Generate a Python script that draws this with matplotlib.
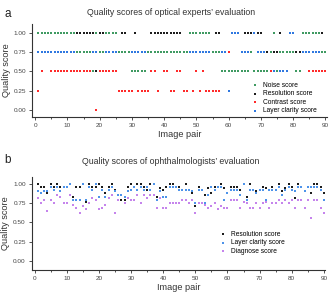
import numpy as np
import matplotlib
matplotlib.use("Agg")
import matplotlib.pyplot as plt
from matplotlib.ticker import MultipleLocator

plt.rcParams['font.family'] = ['Liberation Sans', 'DejaVu Sans']

pairs = list(range(1, 91))

# panel a: optical experts
noise = [1, 1, 1, 1, 1, 1, 1, 1, 1, 1,
         1, 1, .75, .75, .75, .75, .75, .5, 1, .75,
         .75, 1, 1, 1, 1, .75, .75, .75, .75, .5,
         .5, .5, .5, .5, .75, .75, .75, .75, .75, .75,
         .75, .75, .75, .75, .75, .75, .75, 1, 1, 1,
         1, 1, 1, 1, .75, .75, .75, .5, .5, .5,
         .5, .5, .5, .5, .5, .5, .75, .5, .5, .5,
         .5, .5, .75, 1, .5, .75, .75, .75, .75, .75,
         .5, .5, 1, 1, 1, 1, 1, 1, .75, .75]
resolution = [1, 1, 1, 1, 1, 1, 1, 1, 1, 1,
              1, 1, 1, 1, 1, 1, 1, 1, .5, 1,
              1, 1, 1, 1, 1, .75, 1, 1, .75, .75,
              1, .75, .75, .75, .75, 1, 1, 1, 1, 1,
              1, 1, 1, 1, 1, .75, .75, 1, 1, 1,
              1, 1, 1, 1, .75, 1, 1, .75, .75, .5,
              .5, .5, .5, .5, 1, 1, 1, 1, 1, 1,
              .75, .75, .75, .75, .75, 1, .75, .75, .75, .75,
              .75, .75, 1, 1, 1, 1, 1, 1, 1, .75]
contrast = [.25, .5, .75, .75, .5, .5, .5, .5, .5, .5,
            .5, .5, .5, .5, .5, .5, .5, .5, 0, .5,
            .5, .5, .5, .5, .5, .25, .25, .25, .25, .25,
            .5, .25, .25, .25, .25, .5, .5, .25, .75, .5,
            .5, .25, .25, .5, .5, .25, .25, .75, .25, .5,
            .25, .5, .25, .25, .25, .25, .25, .5, .5, .75,
            .5, .5, .5, .5, .5, .5, .75, .5, .5, .5,
            .5, .5, .5, .5, .5, .5, .5, .5, .75, .75,
            .5, .5, .75, .75, .5, .5, .5, .5, .5, .5]
layer_a = [.75, .75, .75, .75, .75, .75, .75, .75, .75, .75,
           .75, .75, .75, .75, .75, .75, .75, .75, .75, .75,
           .75, .75, .75, .75, .75, .75, .75, .75, .75, .75,
           .75, .75, .75, .75, .75, .75, .75, .75, .75, .75,
           .75, .75, .75, .75, .75, .75, .75, .75, .75, .75,
           .75, .75, .75, .75, .75, .75, .75, .75, .75, .25,
           1, 1, 1, .75, .75, .75, .75, 1, .75, .75,
           .75, .5, .75, .5, .5, .5, .5, .5, 1, 1,
           .5, .5, .75, .75, .75, .75, .75, .75, .75, .75]

# panel b: ophthalmologists
resolution_b = [1, .96, .96, .875, 1, .96, 1, .96, .96, .96,
                1, .83, .96, .96, 1, .77, 1, .96, .96, 1,
                .96, .875, .96, 1, .92, .85, .79, .79, .96, 1,
                .96, 1, 1, .96, .92, 1, 1, .83, .94, .92,
                .96, 1, 1, .96, .96, .92, 1, .92, .875, .71,
                .96, .92, .85, .94, .875, .96, .96, 1, .94, .875,
                .96, .96, .96, .92, 1, .83, 1, .92, .90, .92,
                .96, .94, .92, .96, .92, 1, .90, .94, 1, .96,
                .81, 1, .96, .90, .96, .875, 1, 1, .96, .875]
layer_b = [.90, .875, .90, .90, .96, .92, .96, .90, .96, .96,
           1, .79, .79, .79, 1, .79, .96, .92, 1, .83,
           .92, .83, .92, .96, .90, .85, .85, .83, .90, .92,
           .96, .92, .96, .92, .96, .92, 1, .79, .90, .83,
           .83, .96, .96, .96, .92, .92, .92, .92, .90, .75,
           .92, .92, .75, .85, .96, .92, .96, .96, .79, .88,
           .92, .92, .92, .85, 1, .79, .92, .92, .88, .92,
           .92, .79, .92, .92, .92, .96, .85, .92, .96, .92,
           .90, .96, .96, .90, .96, .96, .96, .96, .92, .79]
diagnose = [.81, .75, .79, .65, .79, .75, .85, .83, .75, .75,
            .85, .73, .69, .625, .71, .67, .75, .81, .79, .67,
            .69, .73, .81, .85, .625, .79, .79, .75, .81, .79,
            .79, .85, .75, .85, .81, .85, .85, .69, .81, .69,
            .69, .75, .75, .75, .75, .79, .79, .75, .79, .625,
            .75, .75, .73, .69, .71, .75, .67, .71, .69, .69,
            .79, .79, .79, .69, .77, .75, .69, .69, .75, .69,
            .75, .77, .69, .75, .75, .79, .75, .79, .75, .79,
            .69, .79, .79, .69, .79, .56, .79, .79, .69, .625]

GREEN = '#3f9a62'
BLACK = '#1c1c1c'
RED = '#ff2a2a'
BLUE = '#2f78e0'
BLUE_B = '#4d93ea'
PURPLE = '#c584ec'

W, H = 335, 296
fig = plt.figure(figsize=(W / 100, H / 100), dpi=100)


def style_axes(ax, ylim):
    for s in ['top', 'right']:
        ax.spines[s].set_visible(False)
    for s in ['left', 'bottom']:
        ax.spines[s].set_linewidth(0.8)
        ax.spines[s].set_color('#333333')
    ax.set_xlim(-0.9, 90.4)
    ax.set_ylim(*ylim)
    ax.xaxis.set_major_locator(MultipleLocator(10))
    ax.xaxis.set_minor_locator(MultipleLocator(5))
    ax.set_yticks([0, 0.25, 0.5, 0.75, 1.0])
    ax.set_yticklabels(['0.00', '0.25', '0.50', '0.75', '1.00'])
    ax.tick_params(which='both', direction='out', labelsize=4.6,
                   length=2.2, width=0.6, pad=2, colors='#333333',
                   labelcolor='#444444')
    ax.tick_params(which='minor', length=1.6)
    ax.set_xlabel('Image pair', fontsize=6.6, labelpad=1.5, color='#333333')
    ax.set_ylabel('Quality score', fontsize=6.6, labelpad=2, color='#333333')


ms = 4.2
# panel a
ax1 = fig.add_axes([32.3 / W, 1 - 116.7 / H, 294.4 / W, 92.7 / H])
ax1.scatter(pairs, noise, s=ms, marker='s', color=GREEN, linewidths=0, zorder=5, label='Noise score')
ax1.scatter(pairs, resolution, s=ms, marker='s', color=BLACK, linewidths=0, zorder=3, label='Resolution score')
ax1.scatter(pairs, contrast, s=ms, marker='s', color=RED, linewidths=0, zorder=2, label='Contrast score')
ax1.scatter(pairs, layer_a, s=ms, marker='s', color=BLUE, linewidths=0, zorder=4, label='Layer clarity score')
style_axes(ax1, (-0.087, 1.11))
ax1.legend(loc='upper left', bbox_to_anchor=(252 / W, 1 - 82 / H),
           bbox_transform=fig.transFigure, frameon=False, fontsize=4.8,
           borderpad=0, borderaxespad=0, handlelength=0.8, handletextpad=0.9,
           labelspacing=0.22, markerscale=0.9)
fig.text(171 / W, 1 - 12.7 / H, 'Quality scores of optical experts\u2019 evaluation',
         ha='center', va='center', fontsize=6.3, color='#333333')
fig.text(8 / W, 1 - 14 / H, 'a', ha='center', va='center', fontsize=8.5, color='#222222')

# panel b
ax2 = fig.add_axes([31.7 / W, 1 - 270 / H, 293.5 / W, 93.3 / H])
ax2.scatter(pairs, resolution_b, s=ms, marker='s', color=BLACK, linewidths=0, zorder=3, label='Resolution score')
ax2.scatter(pairs, layer_b, s=ms, marker='s', color=BLUE_B, linewidths=0, zorder=4, label='Layer clarity score')
ax2.scatter(pairs, diagnose, s=ms, marker='s', color=PURPLE, linewidths=0, zorder=2, label='Diagnose score')
style_axes(ax2, (-0.112, 1.09))
ax2.legend(loc='upper left', bbox_to_anchor=(220 / W, 1 - 231 / H),
           bbox_transform=fig.transFigure, frameon=False, fontsize=4.8,
           borderpad=0, borderaxespad=0, handlelength=0.8, handletextpad=0.9,
           labelspacing=0.22, markerscale=0.9)
fig.text(171 / W, 1 - 161.7 / H, 'Quality scores of ophthalmologists\u2019 evaluation',
         ha='center', va='center', fontsize=6.3, color='#333333')
fig.text(8 / W, 1 - 160 / H, 'b', ha='center', va='center', fontsize=8.5, color='#222222')

fig.savefig('out.png', dpi=100)
